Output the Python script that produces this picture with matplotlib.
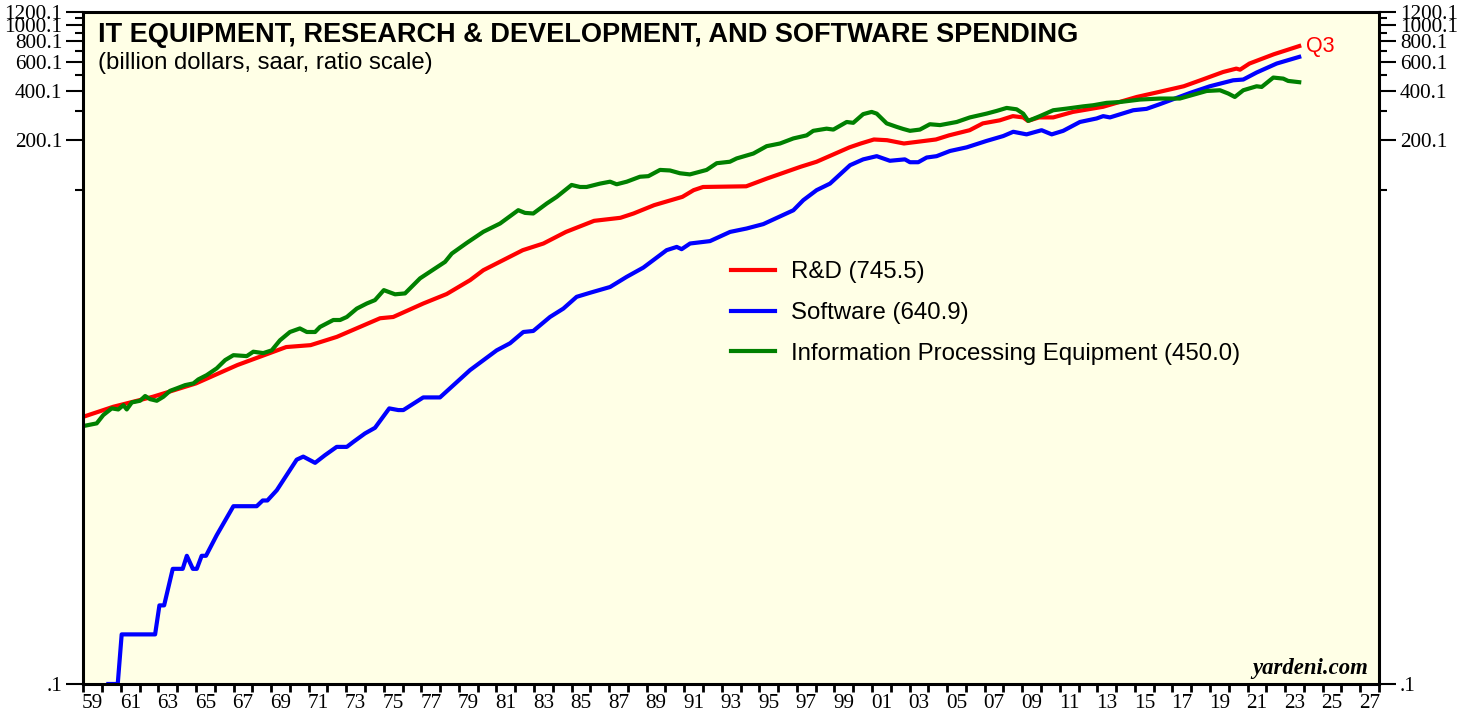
import matplotlib.pyplot as plt
from matplotlib.ticker import FixedLocator, FixedFormatter, NullFormatter

# values (billion dollars, saar)
rd_years = [1959.0, 1960.6, 1962.7, 1965.0, 1967.2, 1969.8, 1971.1, 1972.5, 1974.8, 1975.5,
            1977.1, 1978.35, 1979.6, 1980.3, 1982.4, 1983.5, 1984.7, 1986.2, 1987.6, 1988.3,
            1989.4, 1990.9, 1991.5, 1992.0, 1994.3, 1995.4, 1997.2, 1998.05, 1999.8, 2000.4,
            2001.1, 2001.8, 2002.7, 2004.4, 2005.1, 2006.2, 2006.9, 2007.8, 2008.5, 2009.05,
            2009.3, 2009.9, 2010.65, 2011.7, 2013.3, 2015.1, 2016.3, 2017.6, 2018.6, 2019.7,
            2020.4, 2020.6, 2021.1, 2022.4, 2023.75]
rd_values = [4.19, 4.82, 5.54, 6.68, 8.63, 11.1, 11.4, 12.8, 16.6, 16.9,
             20.4, 23.3, 28.3, 32.5, 43.0, 47.2, 55.5, 64.8, 67.6, 71.8,
             80.7, 90.6, 99.5, 104, 105, 117, 138, 148, 181, 191,
             202, 200, 191, 202, 214, 230, 253, 264, 280, 275,
             262, 275, 275, 297, 319, 366, 393, 425, 467, 519,
             544, 536, 584, 665, 745.5]

sw_years = [1960.33, 1960.83, 1961.04, 1962.82, 1963.05, 1963.3, 1963.76, 1964.29, 1964.51, 1964.83,
            1965.04, 1965.3, 1965.53, 1966.1, 1966.99, 1968.23, 1968.55, 1968.8, 1969.3, 1970.36,
            1970.71, 1971.34, 1971.87, 1972.49, 1973.03, 1973.38, 1974.0, 1974.53, 1975.29, 1975.77,
            1976.04, 1977.1, 1977.99, 1979.59, 1981.01, 1981.72, 1982.43, 1982.96, 1983.85, 1984.56,
            1985.27, 1985.98, 1987.05, 1987.93, 1988.82, 1990.06, 1990.6, 1990.86, 1991.31, 1992.37,
            1993.44, 1994.32, 1995.21, 1996.81, 1997.34, 1998.05, 1998.76, 1999.83, 2000.53, 2001.25,
            2001.95, 2002.75, 2003.02, 2003.46, 2003.91, 2004.44, 2005.15, 2006.04, 2007.1, 2007.99,
            2008.52, 2009.23, 2010.03, 2010.57, 2011.18, 2012.07, 2012.96, 2013.31, 2013.67, 2014.91,
            2015.62, 2016.33, 2017.93, 2018.99, 2020.23, 2020.77, 2021.48, 2022.55, 2023.75]
sw_values = [0.1, 0.1, 0.2, 0.2, 0.3, 0.3, 0.5, 0.5, 0.6, 0.5,
             0.5, 0.6, 0.6, 0.8, 1.2, 1.2, 1.3, 1.3, 1.5, 2.3,
             2.4, 2.2, 2.45, 2.75, 2.75, 2.95, 3.32, 3.59, 4.71, 4.6,
             4.6, 5.49, 5.49, 8.04, 10.6, 11.7, 13.7, 13.9, 16.9, 19.0,
             22.4, 23.7, 25.7, 29.6, 33.7, 43.0, 45.0, 43.6, 47.2, 48.8,
             55.5, 58.2, 61.9, 75.1, 86.5, 99.5, 109, 141, 153, 160,
             150, 153, 147, 147, 157, 160, 172, 181, 198, 212,
             225, 217, 230, 217, 228, 258, 271, 280, 275, 304,
             310, 331, 387, 425, 462, 467, 515, 584, 640.9]

ipe_years = [1959.0, 1959.71, 1960.06, 1960.51, 1960.86, 1961.13, 1961.31, 1961.58, 1962.02, 1962.29,
             1962.55, 1962.91, 1963.26, 1963.62, 1963.97, 1964.42, 1964.86, 1965.12, 1965.57, 1966.1,
             1966.55, 1966.99, 1967.7, 1968.05, 1968.58, 1969.03, 1969.47, 1970.0, 1970.53, 1970.9,
             1971.34, 1971.6, 1972.31, 1972.67, 1973.03, 1973.56, 1974.09, 1974.53, 1975.0, 1975.6,
             1976.13, 1976.93, 1977.64, 1978.26, 1978.62, 1979.42, 1980.3, 1981.19, 1982.16, 1982.52,
             1982.96, 1983.68, 1984.21, 1985.0, 1985.45, 1985.8, 1986.51, 1987.05, 1987.4, 1987.94,
             1988.64, 1989.09, 1989.71, 1990.24, 1990.77, 1991.3, 1992.19, 1992.73, 1993.43, 1993.79,
             1994.68, 1995.39, 1996.1, 1996.81, 1997.52, 1997.87, 1998.58, 1998.94, 1999.65, 2000.0,
             2000.53, 2000.98, 2001.25, 2001.78, 2002.31, 2002.66, 2003.02, 2003.55, 2004.08, 2004.62,
             2005.51, 2006.21, 2007.1, 2007.63, 2008.17, 2008.7, 2009.05, 2009.32, 2009.94, 2010.65,
             2011.36, 2012.25, 2012.78, 2013.49, 2014.2, 2015.27, 2016.33, 2017.39, 2018.82, 2019.53,
             2019.97, 2020.32, 2020.77, 2021.48, 2021.75, 2022.37, 2022.9, 2023.16, 2023.75]
ipe_values = [3.68, 3.82, 4.29, 4.71, 4.64, 4.93, 4.64, 5.12, 5.24, 5.6,
              5.36, 5.24, 5.54, 6.02, 6.23, 6.52, 6.68, 7.06, 7.5, 8.24,
              9.25, 9.91, 9.78, 10.4, 10.2, 10.6, 12.2, 13.7, 14.4, 13.7,
              13.7, 14.7, 16.2, 16.2, 16.9, 19.0, 20.4, 21.4, 24.6, 23.2,
              23.5, 29.0, 32.8, 36.5, 41.0, 47.6, 55.6, 62.4, 75.2, 72.4,
              71.8, 82.6, 90.6, 107, 104, 104, 109, 112, 108, 112,
              120, 121, 132, 131, 126, 124, 132, 145, 148, 155,
              166, 184, 191, 205, 214, 228, 235, 232, 258, 255,
              288, 297, 290, 253, 241, 234, 228, 232, 250, 247,
              258, 275, 290, 301, 314, 308, 290, 262, 280, 304,
              311, 321, 326, 337, 341, 353, 358, 358, 398, 402,
              384, 366, 402, 425, 421, 480, 473, 458, 450.0]

series_names = ["R&D (745.5)", "Software (640.9)", "Information Processing Equipment (450.0)"]
series_colors = ["#FF0000", "#0000FF", "#008000"]

y_major = [0.1, 200.1, 400.1, 600.1, 800.1, 1000.1, 1200.1]
y_major_labels = [".1", "200.1", "400.1", "600.1", "800.1", "1000.1", "1200.1"]
y_minor = [100.1, 300.1, 500.1, 700.1, 900.1, 1100.1]

fig = plt.figure(figsize=(14.73, 7.19), dpi=100)
ax = fig.add_axes([0.0566, 0.0487, 0.8796, 0.9346])
ax.set_facecolor("#FFFFE6")

for yrs, vals, name, col in zip([rd_years, sw_years, ipe_years],
                                [rd_values, sw_values, ipe_values],
                                series_names, series_colors):
    ax.plot(yrs, vals, color=col, lw=3, label=name, solid_joinstyle="round")

ax.set_yscale("log")
ax.set_ylim(0.1, 1200.1)
ax.set_xlim(1959, 2028)

# y ticks on both sides
ax.yaxis.set_major_locator(FixedLocator(y_major))
ax.yaxis.set_major_formatter(FixedFormatter(y_major_labels))
ax.yaxis.set_minor_locator(FixedLocator(y_minor))
ax.yaxis.set_minor_formatter(NullFormatter())
ax.tick_params(axis="y", which="both", left=True, right=True, labelleft=True, labelright=True,
               direction="out", width=1.5, labelsize=15.3, pad=3)
ax.tick_params(axis="y", which="major", length=12)
ax.tick_params(axis="y", which="minor", length=5.5)

# x: a tick every year, labels centred in every other year
ax.xaxis.set_major_locator(FixedLocator(range(1959, 2029)))
ax.xaxis.set_major_formatter(NullFormatter())
label_pos = [y + 0.5 for y in range(1959, 2028, 2)]
ax.xaxis.set_minor_locator(FixedLocator(label_pos))
ax.xaxis.set_minor_formatter(FixedFormatter([f"{y % 100:02d}" for y in range(1959, 2028, 2)]))
ax.tick_params(axis="x", which="major", direction="out", length=6, width=2)
ax.tick_params(axis="x", which="minor", length=0, labelsize=15.3, pad=7)

for lab in ax.get_xticklabels(which="both") + ax.get_yticklabels(which="both"):
    lab.set_fontfamily("Liberation Serif")

for sp in ax.spines.values():
    sp.set_linewidth(2.2)

ax.text(0.0113, 0.985, "IT EQUIPMENT, RESEARCH & DEVELOPMENT, AND SOFTWARE SPENDING",
        transform=ax.transAxes, ha="left", va="top", fontsize=19.5, fontweight="bold",
        family="Liberation Sans")
ax.text(0.0113, 0.924, "(billion dollars, saar, ratio scale)", transform=ax.transAxes,
        ha="left", va="center", fontsize=17.2, family="Liberation Sans")

ax.annotate("Q3", xy=(rd_years[-1], rd_values[-1]), xytext=(5, 0), textcoords="offset points",
            ha="left", va="center", color="#FF0000", fontsize=15.5, family="Liberation Sans")

ax.text(0.9915, 0.008, "yardeni.com", transform=ax.transAxes, ha="right", va="bottom",
        fontsize=16.4, fontweight="bold", style="italic", family="Liberation Serif")

leg = ax.legend(loc="upper left", bbox_to_anchor=(0.4995, 0.629), frameon=False,
                prop={"family": "Liberation Sans", "size": 17.3}, handlelength=1.85,
                handletextpad=0.65, labelspacing=0.78, borderpad=0, borderaxespad=0)

fig.savefig("out.png", dpi=100)
